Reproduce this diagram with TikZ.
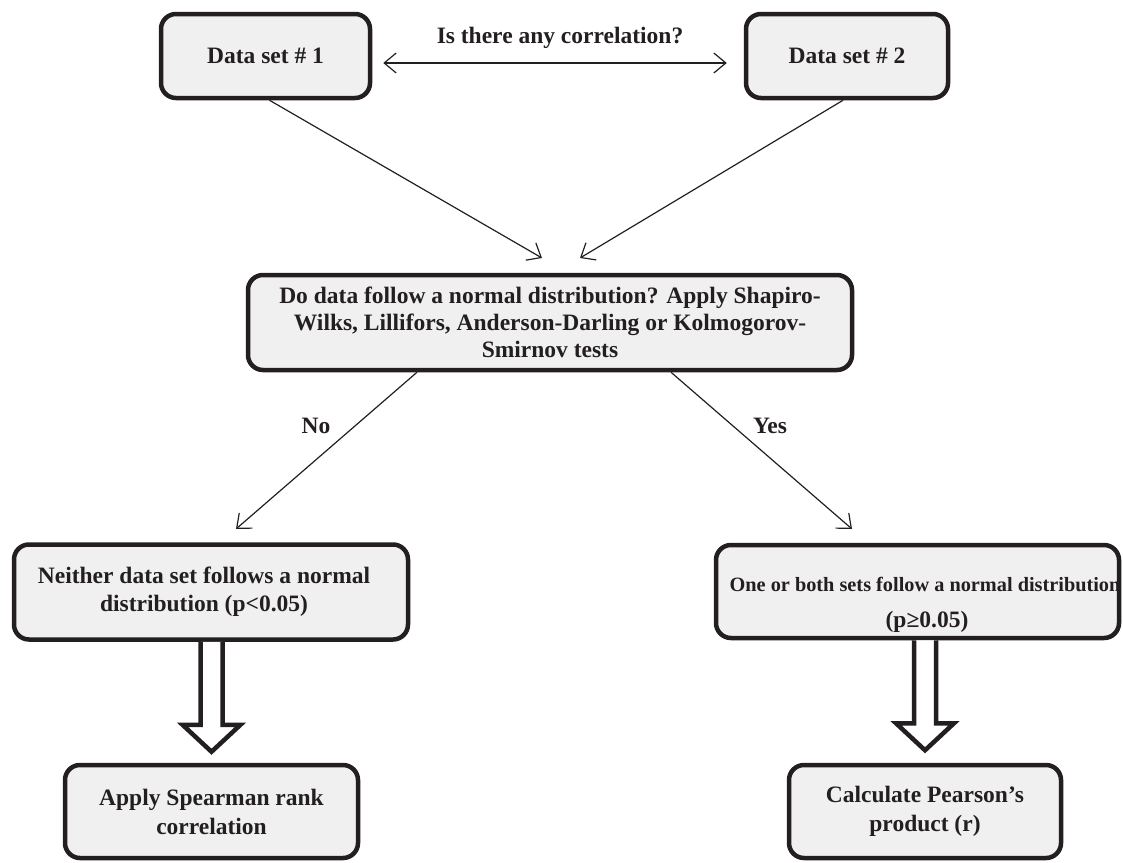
\documentclass[tikz,border=0pt]{standalone}
\usepackage{fontspec}
\setmainfont{Liberation Serif}
\usetikzlibrary{arrows.meta}
\definecolor{ink}{HTML}{231F20}
\definecolor{boxfill}{HTML}{F0F0F0}
\tikzstyle{box}=[draw=ink, fill=boxfill, line width=4.5pt, rounded corners=15pt, align=center, inner sep=0pt, text=ink, font=\fontsize{23.5}{28}\selectfont\bfseries]
\tikzstyle{link}=[draw=ink, line width=1.2pt, ->]
\tikzstyle{fatarrow}=[draw=ink, fill=white, line width=4.5pt, line join=miter]
\tikzstyle{lab}=[text=ink, inner sep=0pt, font=\fontsize{23.5}{28}\selectfont\bfseries]

\begin{document}
\begin{tikzpicture}[x=1pt, y=-1pt, >={Straight Barb[length=12pt,width=20pt]}]
\useasboundingbox (0,0) rectangle (1123,862);
% Boxes
    \node[box, minimum width=209, minimum height=84] (ds1) at (265.5,56) {Data set \# 1};
    \node[box, minimum width=202, minimum height=84] (ds2) at (847,56) {Data set \# 2};
    \node[box, minimum width=604, minimum height=95, font=\fontsize{23.5}{27}\selectfont\bfseries] (test) at (550,322.5)
        {Do data follow a normal distribution? Apply Shapiro-\\
         Wilks, Lillifors, Anderson-Darling or Kolmogorov-\\
         Smirnov tests};
    \node[box, minimum width=394, minimum height=95] (nobox) at (211,592)
        {Neither data set follows a normal\hspace*{14pt}\\ distribution (p<0.05)\hspace*{14pt}};
    \node[box, minimum width=403, minimum height=93, font=\fontsize{23.5}{36}\selectfont\bfseries] (yesbox) at (917.5,591.5)
        {\rule{0pt}{40pt}\hspace*{15pt}\makebox[0pt]{\fontsize{20.3}{36}\selectfont One or both sets follow a normal distribution}\\
         \hspace*{19pt}\makebox[0pt]{(p≥0.05)}};
    \node[box, minimum width=293, minimum height=93, font=\fontsize{23.5}{29}\selectfont\bfseries] (spear) at (211.5,811.5)
        {Apply Spearman rank\\ correlation};
    \node[box, minimum width=272, minimum height=93, font=\fontsize{23.5}{29}\selectfont\bfseries] (pear) at (925,811.5)
        {Calculate Pearson's\\ product (r)};
% Labels
    \node[lab] (q) at (560,38) {Is there any correlation?};
    \node[lab] (nolab) at (316,426) {No};
    \node[lab] (yeslab) at (770,426) {Yes};
% Free arrow ends
    \coordinate (tip1) at (542,258);
    \coordinate (tip2) at (580,258);
    \coordinate (notip) at (236,529);
    \coordinate (yestip) at (852,529);
% Thin arrows
    \draw[link, <->] ([xshift=11pt, yshift=-7pt]ds1.east) -- ([xshift=-17pt, yshift=-7pt]ds2.west);
    \draw[link] ([xshift=4pt]ds1.south) -- (tip1);
    \draw[link] ([xshift=-4pt]ds2.south) -- (tip2);
    \draw[link] ([xshift=-133pt]test.south) -- (notip);
    \draw[link] ([xshift=121pt]test.south) -- (yestip);
% Hollow arrows
    \draw[fatarrow] (nobox.south -| spear.north) ++(-11,0) -- ++(0,83) -- ++(-18,0) -- ++(29,27) -- ++(29,-27) -- ++(-18,0) -- ++(0,-83);
    \draw[fatarrow] (yesbox.south -| pear.north) ++(-11,0) -- ++(0,83) -- ++(-18,0) -- ++(29,27) -- ++(29,-27) -- ++(-18,0) -- ++(0,-83);
\end{tikzpicture}
\end{document}
